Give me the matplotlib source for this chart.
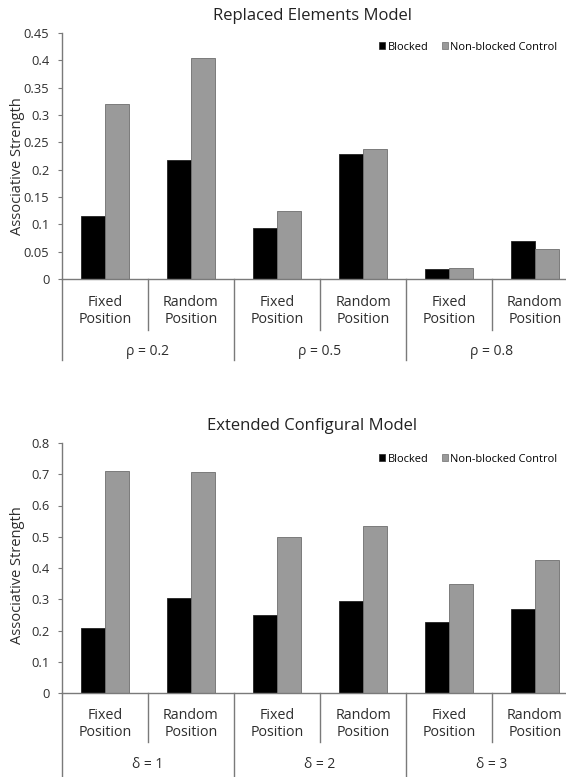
import matplotlib
matplotlib.use('Agg')
import matplotlib.pyplot as plt
import matplotlib.transforms as mtransforms
from matplotlib.patches import Patch

plt.rcParams['font.family'] = ['Open Sans', 'DejaVu Sans']

categories = ['Fixed\nPosition', 'Random\nPosition'] * 3
series_names = ['Blocked', 'Non-blocked Control']

top_title = 'Replaced Elements Model'
top_groups = ['\u03c1 = 0.2', '\u03c1 = 0.5', '\u03c1 = 0.8']
top_blocked = [0.115, 0.218, 0.093, 0.229, 0.018, 0.069]
top_control = [0.320, 0.405, 0.125, 0.237, 0.020, 0.055]
top_ticks = [0, 0.05, 0.1, 0.15, 0.2, 0.25, 0.3, 0.35, 0.4, 0.45]

bot_title = 'Extended Configural Model'
bot_groups = ['\u03b4 = 1', '\u03b4 = 2', '\u03b4 = 3']
bot_blocked = [0.207, 0.305, 0.250, 0.295, 0.228, 0.268]
bot_control = [0.710, 0.707, 0.500, 0.535, 0.350, 0.425]
bot_ticks = [0, 0.1, 0.2, 0.3, 0.4, 0.5, 0.6, 0.7, 0.8]

BLACK = '#000000'
GRAY = '#9a9a9a'
TXT = '#2e2e2e'
LINE = '#7a7a7a'

W, H = 566, 777
fig = plt.figure(figsize=(W / 100, H / 100), dpi=100)


def panel(rect, title, groups, blocked, control, ticks, lay, legend_y, ylab_y):
    ax = fig.add_axes(rect)
    x = list(range(len(categories)))
    bw = 0.28
    ax.bar([i - bw / 2 for i in x], blocked, bw, color=BLACK,
           edgecolor='#222222', linewidth=0.6)
    ax.bar([i + bw / 2 for i in x], control, bw, color=GRAY,
           edgecolor='#6e6e6e', linewidth=0.6)
    ax.set_xlim(-0.5, len(categories) - 0.5)
    ax.set_ylim(0, ticks[-1])
    ax.set_yticks(ticks)
    ax.set_yticklabels(['%g' % t for t in ticks], fontsize=9.3, color=TXT)
    ax.tick_params(axis='y', length=3, width=0.8, color=LINE, pad=6)
    ax.set_xticks([])
    for s in ['top', 'right']:
        ax.spines[s].set_visible(False)
    for s in ['left', 'bottom']:
        ax.spines[s].set_color(LINE)
        ax.spines[s].set_linewidth(1.0)
    ax.set_title(title, fontsize=12, color='#222222', pad=9, x=0.485)
    ax.set_ylabel('Associative Strength', fontsize=10.5, color=TXT)
    ax.yaxis.set_label_coords(-0.072, ylab_y)

    trans = mtransforms.blended_transform_factory(ax.transData, ax.transAxes)
    lab_y, sep_y, grp_y, gsep_y = lay
    for i, c in enumerate(categories):
        ax.text(i, lab_y, c, transform=trans, ha='center', va='center',
                fontsize=10.3, color=TXT, linespacing=1.22)
    for i in range(1, len(categories), 2):
        ax.plot([i - 0.5, i - 0.5], [0, sep_y], transform=trans,
                color=LINE, lw=1.0, clip_on=False)
    for g in range(len(groups)):
        ax.plot([2 * g - 0.5, 2 * g - 0.5], [0, gsep_y], transform=trans,
                color=LINE, lw=1.0, clip_on=False)
        ax.text(2 * g + 0.5, grp_y, groups[g], transform=trans,
                ha='center', va='center', fontsize=10, color=TXT)

    handles = [Patch(facecolor=BLACK, edgecolor='#222222', linewidth=0.5),
               Patch(facecolor=GRAY, edgecolor='#6e6e6e', linewidth=0.5)]
    fig.legend(handles, series_names, loc='center right',
               bbox_to_anchor=(563 / W, 1 - legend_y / H),
               bbox_transform=fig.transFigure, frameon=False, ncol=2,
               fontsize=7.9, handlelength=0.55, handleheight=0.55,
               handletextpad=0.25, columnspacing=1.2, borderpad=0)
    return ax


def rect_px(left, right, top, bottom):
    return [left / W, 1 - bottom / H, (right - left) / W, (bottom - top) / H]


panel(rect_px(62, 578, 33, 279), top_title, top_groups, top_blocked,
      top_control, top_ticks, (-0.13, -0.207, -0.293, -0.329), 47, 0.46)
panel(rect_px(62, 578, 443, 693), bot_title, bot_groups, bot_blocked,
      bot_control, bot_ticks, (-0.124, -0.196, -0.288, -0.36), 459, 0.47)

fig.savefig('out.png', dpi=100)
